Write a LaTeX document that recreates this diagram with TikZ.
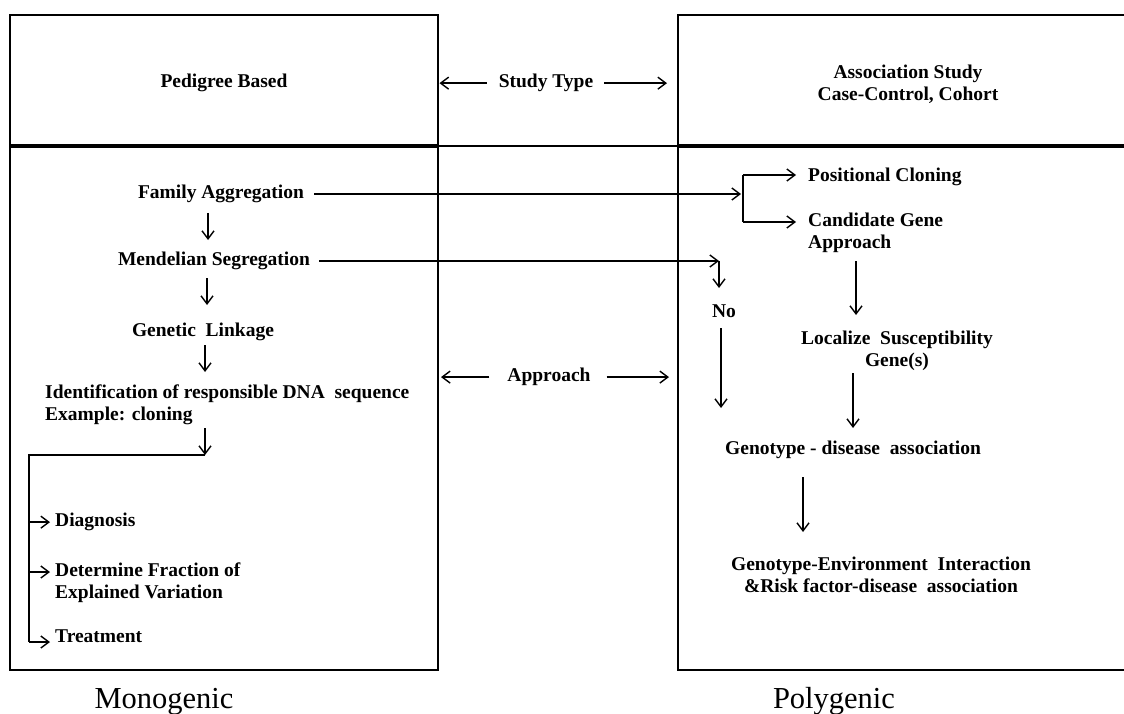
\documentclass[tikz,border=0pt]{standalone}
\usepackage{fontspec}
\setmainfont{Liberation Serif}
\usetikzlibrary{arrows.meta,calc}
\begin{document}
\begin{tikzpicture}[x=1pt,y=-1pt,
  frame/.style={draw, line width=2.4pt, inner sep=0pt, outer sep=0pt, anchor=north west},
  lbl/.style={font=\fontsize{19.5}{22.5}\selectfont\bfseries, inner sep=0pt, anchor=mid, yshift=-4.5pt},
  lblw/.style={lbl, anchor=mid west},
  mlw/.style={font=\fontsize{19.5}{22.5}\selectfont\bfseries, inner sep=0pt, align=left, anchor=west},
  mlc/.style={font=\fontsize{19.5}{22.5}\selectfont\bfseries, inner sep=0pt, align=center, anchor=center},
  big/.style={font=\fontsize{30.5}{34}\selectfont, inner sep=0pt, anchor=mid, yshift=-7pt},
  conn/.style={line width=1.4pt},
  arr/.style={conn, -{Straight Barb[length=8pt,width=12pt]}},
]
\useasboundingbox (0,0) rectangle (1124,714);
\clip (0,0) rectangle (1124,714);

% boxes
\node[frame, minimum width=428pt, minimum height=130pt] (pedbox) at (10,15) {};
\node[frame, minimum width=428pt, minimum height=523pt] (monobox) at (10,147) {};
\node[frame, minimum width=462pt, minimum height=130pt] (assocbox) at (678,15) {};
\node[frame, minimum width=462pt, minimum height=523pt] (polybox) at (678,147) {};
\coordinate (divl) at (438,146);
\coordinate (divr) at (678,146);
\draw[line width=1.7pt] (divl) -- (divr);

% top row
\node[lbl] (ped) at (224,81) {Pedigree Based};
\node[lbl] (st) at (546,81) {Study Type};
\node[mlc] (assoc) at (908,84) {Association Study\\Case-Control, Cohort};
\draw[arr] ($(st.west)+(-12,0)$) -- ($(st.west -| pedbox.east)+(1.5,0)$);
\draw[arr] ($(st.east)+(11,0)$) -- ($(st.east -| assocbox.west)+(-11,0)$);

% approach
\node[lbl] (ap) at (549,375) {Approach};
\draw[arr] ($(ap.west)+(-18,0)$) -- ($(ap.west -| monobox.east)+(3,0)$);
\draw[arr] ($(ap.east)+(16,0)$) -- ($(ap.east -| polybox.west)+(-9,0)$);

% left chain
\node[lbl] (fam) at (221,192) {Family Aggregation};
\node[lbl] (mend) at (214,259) {Mendelian Segregation};
\node[lbl] (gen) at (203,330) {Genetic\ \ Linkage};
\node[mlw] (ident) at (45,405) {Identification of responsible DNA\ \ sequence\\Example: cloning};
\coordinate (a1s) at (208,213); \coordinate (a1e) at (208,240);
\coordinate (a2s) at (207,278); \coordinate (a2e) at (207,305);
\coordinate (a3s) at (205,345); \coordinate (a3e) at (205,372);
\draw[arr] (a1s) -- (a1e);
\draw[arr] (a2s) -- (a2e);
\draw[arr] (a3s) -- (a3e);

\coordinate (d1) at (205,428);
\coordinate (d2) at (205,455);
\coordinate (lc) at (29,455);
\coordinate (lb) at (29,642);
\draw[arr] (d1) -- (d2);
\node[lblw] (diag) at (55,520) {Diagnosis};
\node[mlw] (det) at (55,582.5) {Determine Fraction of\\Explained Variation};
\node[lblw] (treat) at (55,636) {Treatment};
\coordinate (dt) at (29,572);
\draw[conn] (d2) -- (lc) -- (lb);
\draw[arr] (lb) -- ($(treat.west |- lb)+(-5,0)$);
\draw[arr] (lc |- diag.west) -- ($(diag.west)+(-5,0)$);
\draw[arr] (dt) -- ($(det.west |- dt)+(-5,0)$);

% right side
\coordinate (fcorner) at (741,194);
\coordinate (bt) at (743,175);
\coordinate (bb) at (743,222);
\node[lblw] (pos) at (808,175) {Positional Cloning};
\node[mlw] (cand) at (808,233) {Candidate Gene\\Approach};
\draw[arr] ($(fam.east |- fcorner)+(10,0)$) -- (fcorner);
\draw[conn] (bt) -- (bb);
\draw[arr] (bt) -- ($(pos.west |- bt)+(-12,0)$);
\draw[arr] (bb) -- ($(cand.west |- bb)+(-12,0)$);

\coordinate (mcorner) at (719,261);
\coordinate (mdown) at (719,288);
\draw[arr] ($(mend.east |- mcorner)+(9,0)$) -- (mcorner);
\draw[arr] (mcorner) -- (mdown);
\node[lbl] (no) at (724,311) {No};
\coordinate (nos) at (721,328); \coordinate (noe) at (721,408);
\draw[arr] (nos) -- (noe);

\coordinate (c1) at (856,261); \coordinate (c2) at (856,315);
\draw[arr] (c1) -- (c2);
\node[mlc] (loc) at (897,351) {Localize\ \ Susceptibility\\Gene(s)};
\coordinate (l1) at (853,373); \coordinate (l2) at (853,428);
\draw[arr] (l1) -- (l2);
\node[lbl] (gda) at (853,448) {Genotype - disease\ \ association};
\coordinate (g1) at (803,477); \coordinate (g2) at (803,532);
\draw[arr] (g1) -- (g2);
\node[mlc] (gei) at (881,575) {Genotype-Environment\ \ Interaction\\\&Risk factor-disease\ \ association};

% captions
\node[big] (mono) at (164,699) {Monogenic};
\node[big] (poly) at (834,699) {Polygenic};
\end{tikzpicture}
\end{document}
